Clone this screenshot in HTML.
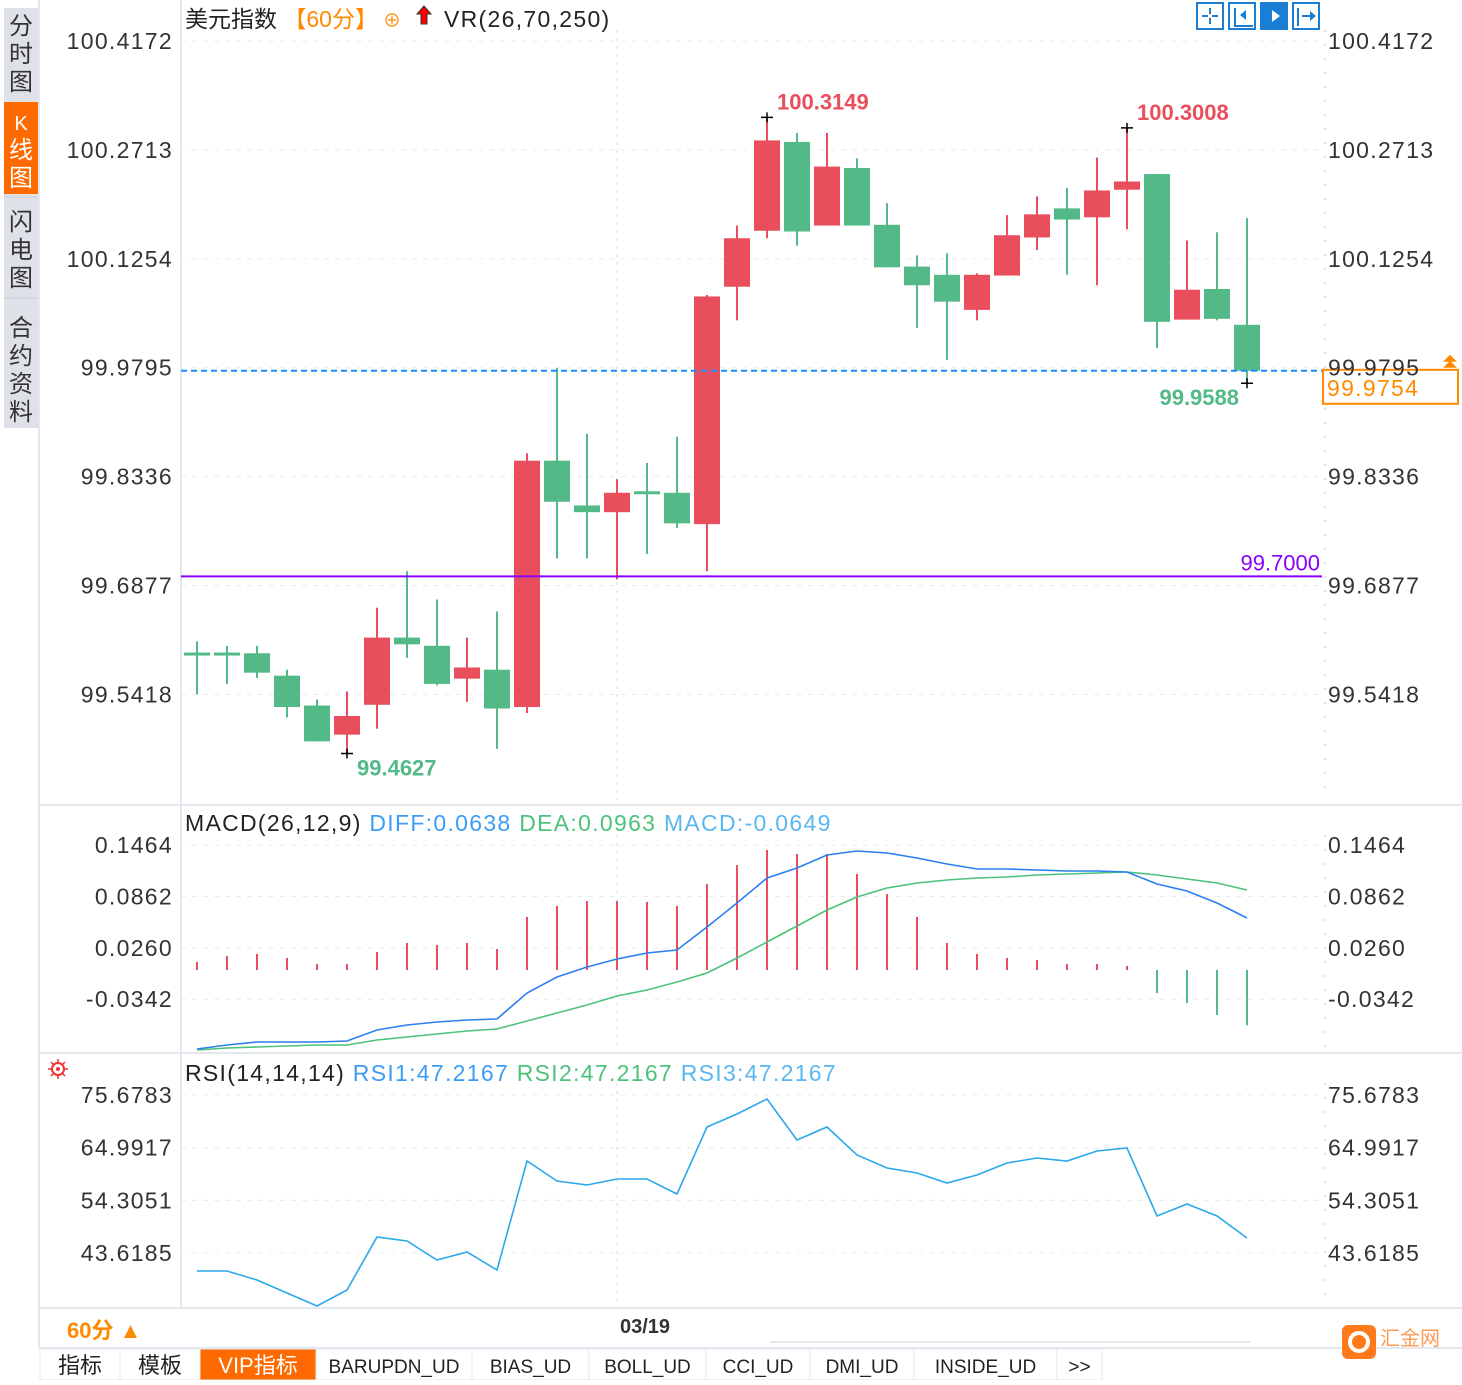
<!DOCTYPE html>
<html><head><meta charset="utf-8"><style>
body{margin:0;background:#fff;width:1462px;height:1380px;overflow:hidden;font-family:"Liberation Sans","Noto Sans CJK SC",sans-serif}
svg text{font-family:"Liberation Sans","Noto Sans CJK SC",sans-serif}
.ax{letter-spacing:1.3px}
</style></head><body>
<svg id="c" width="1462" height="1380" viewBox="0 0 1462 1380">
<g>
<rect x="4" y="8" width="34" height="420" fill="#dfe1e8"/>
<rect x="4" y="102" width="34" height="92" fill="#ff6a00"/>
<line x1="4" y1="197" x2="38" y2="197" stroke="#c8ccd6"/><line x1="4" y1="298" x2="38" y2="298" stroke="#c8ccd6"/>
<text x="21" font-size="24" fill="#333" text-anchor="middle"><tspan x="21" y="34">分</tspan><tspan x="21" y="62">时</tspan><tspan x="21" y="90">图</tspan></text>
<text font-size="24" fill="#fff" text-anchor="middle"><tspan x="21" y="130" font-size="20">K</tspan><tspan x="21" y="158">线</tspan><tspan x="21" y="186">图</tspan></text>
<text font-size="24" fill="#333" text-anchor="middle"><tspan x="21" y="230">闪</tspan><tspan x="21" y="258">电</tspan><tspan x="21" y="286">图</tspan></text>
<text font-size="24" fill="#333" text-anchor="middle"><tspan x="21" y="336">合</tspan><tspan x="21" y="364">约</tspan><tspan x="21" y="392">资</tspan><tspan x="21" y="420">料</tspan></text>
</g>
<g stroke="#e3e8ef" stroke-width="2">
<line x1="39" y1="0" x2="39" y2="1348"/><line x1="181" y1="0" x2="181" y2="1308"/>
<line x1="39" y1="805" x2="1462" y2="805"/><line x1="39" y1="1053" x2="1462" y2="1053"/><line x1="39" y1="1308" x2="1462" y2="1308"/>
<line x1="39" y1="1348" x2="1462" y2="1348"/>
</g>
<g id="grid"></g>
<g id="candles"></g>
<g id="macd"></g>
<g id="rsi"></g>
<g id="axes"></g>
<text x="185" y="27" font-size="23" fill="#222">美元指数 <tspan fill="#ff8a00">【60分】</tspan><tspan fill="#ff8a00" font-size="18"> ⊕ </tspan></text>
<path d="M424 6 l-7 8 h4 v10 h6 v-10 h4 z" fill="#f00" stroke="#333" stroke-width="1"/>
<text x="444" y="27" font-size="23" fill="#222" class="ax">VR(26,70,250)</text>
<g fill="none" stroke="#1a7fd4" stroke-width="2">
<rect x="1197" y="3" width="26" height="26"/>
<rect x="1229" y="3" width="26" height="26"/>
<rect x="1261" y="3" width="26" height="26" fill="#1a7fd4"/>
<rect x="1293" y="3" width="26" height="26"/>
<path d="M1210 8v6M1210 18v6M1202 16h6M1212 16h6M1235 8v18h18M1266 8v18h18M1298 8v18M1302 16h12"/>
<path d="M1272 10l8 6-8 6z M1310 11l6 5-6 5z M1246 10l-6 5 6 5z" fill="#1a7fd4" stroke="none"/>
<path d="M1272 10l8 6-8 6z" fill="#fff" stroke="none"/>
</g>
<text x="185" y="831" font-size="23" fill="#222" class="ax">MACD(26,12,9) <tspan fill="#3d9cf5">DIFF:0.0638</tspan>  <tspan fill="#4cc27a">DEA:0.0963</tspan>  <tspan fill="#5ab7f0">MACD:-0.0649</tspan></text>
<text x="185" y="1081" font-size="23" fill="#222" class="ax">RSI(14,14,14) <tspan fill="#3d9cf5">RSI1:47.2167</tspan>  <tspan fill="#4cc27a">RSI2:47.2167</tspan>  <tspan fill="#5ab7f0">RSI3:47.2167</tspan></text>
<g><circle cx="58" cy="1069" r="6" fill="none" stroke="#e33" stroke-width="2"/><circle cx="58" cy="1069" r="2" fill="#e33"/><path d="M48 1069h4M64 1069h4M58 1059v4M58 1075v4M51 1062l3 3M62 1073l3 3M65 1062l-3 3M54 1073l-3 3" stroke="#e33" stroke-width="1.5"/></g>
<g><rect x="40" y="1309" width="140" height="38" fill="#fff"/><text x="67" y="1338" font-size="22" fill="#ff8a00" font-weight="bold">60分 ▲</text></g>
<text x="620" y="1333" font-size="20" font-weight="bold" fill="#333">03/19</text>
<line x1="770" y1="1342" x2="1250" y2="1342" stroke="#e3e8ef" stroke-width="2"/>
<g id="tabs"></g>
<g><rect x="1342" y="1325" width="34" height="34" rx="6" fill="#ff7a1a"/><circle cx="1359" cy="1342" r="9" fill="none" stroke="#fff" stroke-width="4"/><text x="1380" y="1345" font-size="20" fill="#ff9a55">汇金网</text></g>
</svg>
<script>
const NS='http://www.w3.org/2000/svg';
function mk(p,t,a,txt){const e=document.createElementNS(NS,t);for(const k in a)e.setAttribute(k,a[k]);if(txt!=null)e.textContent=txt;p.appendChild(e);return e;}
// ---- data ----
const opens=[99.598,99.598,99.597,99.567,99.527,99.488,99.528,99.618,99.607,99.563,99.575,99.525,99.855,99.795,99.786,99.814,99.812,99.770,100.088,100.163,100.282,100.170,100.247,100.171,100.115,100.104,100.057,100.103,100.154,100.193,100.181,100.218,100.239,100.044,100.085,100.037];
const highs=[99.613,99.607,99.607,99.575,99.535,99.546,99.658,99.707,99.669,99.618,99.653,99.865,99.979,99.891,99.830,99.852,99.887,100.077,100.170,100.3149,100.294,100.294,100.260,100.200,100.130,100.133,100.106,100.184,100.209,100.220,100.261,100.3008,100.239,100.150,100.161,100.180];
const lows=[99.542,99.556,99.564,99.511,99.479,99.4627,99.496,99.591,99.554,99.532,99.469,99.517,99.724,99.724,99.696,99.730,99.765,99.707,100.043,100.153,100.143,100.170,100.170,100.114,100.033,99.990,100.043,100.103,100.137,100.104,100.090,100.165,100.006,100.044,100.043,99.9588];
const closes=[99.597,99.597,99.571,99.525,99.479,99.513,99.618,99.609,99.556,99.578,99.523,99.855,99.800,99.786,99.812,99.813,99.771,100.075,100.153,100.284,100.162,100.249,100.170,100.114,100.090,100.068,100.104,100.157,100.185,100.178,100.217,100.229,100.041,100.084,100.045,99.9754];
const macdHist=[.0094,.0164,.0188,.0141,.0070,.0070,.0211,.0317,.0293,.0317,.0246,.0622,.0751,.0809,.0809,.0798,.0751,.1009,.1232,.1408,.1361,.1361,.1126,.0891,.0622,.0317,.0188,.0141,.0117,.0070,.0070,.0047,-.0270,-.0387,-.0528,-.0649];
const diffVals=[-.0927,-.0880,-.0845,-.0845,-.0845,-.0833,-.0704,-.0645,-.0610,-.0587,-.0575,-.0270,-.0082,.0035,.0129,.0199,.0235,.0504,.0786,.1079,.1196,.1349,.1396,.1372,.1314,.1243,.1185,.1185,.1173,.1161,.1161,.1150,.1009,.0927,.0786,.0610];
const deaVals=[-.0938,-.0915,-.0903,-.0891,-.0880,-.0880,-.0821,-.0786,-.0751,-.0716,-.0692,-.0598,-.0504,-.0411,-.0305,-.0235,-.0141,-.0035,.0141,.0328,.0516,.0704,.0856,.0962,.1021,.1056,.1079,.1091,.1114,.1126,.1138,.1150,.1114,.1067,.1021,.0938];
const rsiVals=[39.97,39.97,38.14,35.50,32.87,36.11,46.87,46.05,42.20,43.82,40.17,62.29,58.23,57.42,58.63,58.63,55.59,69.19,71.82,74.87,66.55,69.19,63.50,60.87,59.85,57.82,59.45,61.88,62.90,62.29,64.32,64.93,51.13,53.56,51.13,46.66];
const priceTicks=[100.4172,100.2713,100.1254,99.9795,99.8336,99.6877,99.5418];
const macdTicks=[0.1464,0.0862,0.0260,-0.0342];
const rsiTicks=[75.6783,64.9917,54.3051,43.6185];
const lastPrice=99.9754, alertLevel=99.7000;
const tabLabels=['指标','模板','VIP指标','BARUPDN_UD','BIAS_UD','BOLL_UD','CCI_UD','DMI_UD','INSIDE_UD','>>'];
// ---- scales ----
const xAt=i=>197+i*30;
const yP=v=>41+(100.4172-v)*746.5;
const yM=v=>970-v/0.001173;
const yR=v=>1095+(75.6783-v)/0.2029;
const G=document.getElementById('grid'),C=document.getElementById('candles'),M=document.getElementById('macd'),R=document.getElementById('rsi'),A=document.getElementById('axes');
function grid(ticks,f){ticks.forEach(t=>{const y=f(t);
 const l=mk(G,'line',{x1:181,x2:1322,y1:y,y2:y,stroke:'#e8ecf0','stroke-dasharray':'5,6'});
 
 const a=mk(A,'text',{x:173,y:y+8,'font-size':23,fill:'#333','text-anchor':'end','class':'ax'},t.toFixed(4));
 
 const b=mk(A,'text',{x:1328,y:y+8,'font-size':23,fill:'#333','class':'ax'},t.toFixed(4));
 });}
grid(priceTicks,yP);grid(macdTicks,yM);grid(rsiTicks,yR);
[[0,800],[805,1053],[1053,1308]].forEach(r=>{const l=mk(G,'line',{x1:617,x2:617,y1:r[0]+30,y2:r[1],stroke:'#e8ecf0','stroke-dasharray':'3,5','stroke-width':2});
 const q=mk(G,'line',{x1:1325,x2:1325,y1:r[0]+30,y2:r[1],stroke:'#e3e8ef','stroke-dasharray':'2,12','stroke-width':3});});
// candles
for(let i=0;i<opens.length;i++){const up=closes[i]>=opens[i],col=up?'#e94e5c':'#52b987',x=xAt(i);
 const w=mk(C,'line',{x1:x,x2:x,y1:yP(highs[i]),y2:yP(lows[i]),stroke:col,'stroke-width':2});
 
 const t=Math.min(yP(opens[i]),yP(closes[i])),h=Math.max(3,Math.abs(yP(opens[i])-yP(closes[i])));
 const b=mk(C,'rect',{x:x-13,y:t,width:26,height:h,fill:col});
 }
// level lines
let l1=mk(C,'line',{x1:181,x2:1322,y1:yP(alertLevel),y2:yP(alertLevel),stroke:'#8a00ff','stroke-width':2});

let t1=mk(C,'text',{x:1320,y:yP(alertLevel)-6,'font-size':22,fill:'#8a00ff','text-anchor':'end'},alertLevel.toFixed(4));

let l2=mk(C,'line',{x1:181,x2:1322,y1:yP(lastPrice),y2:yP(lastPrice),stroke:'#1a8cff','stroke-width':2,'stroke-dasharray':'6,4'});

let bx=mk(C,'rect',{x:1323,y:yP(lastPrice)-1,width:135,height:34,fill:'#fff',stroke:'#ff8a00','stroke-width':2});

let t2=mk(C,'text',{x:1327,y:yP(lastPrice)+25,'font-size':23,fill:'#ff8a00','class':'ax'},lastPrice.toFixed(4));

let ar=mk(C,'path',{d:'M1450 '+(yP(lastPrice)-16)+' l-7 7 h14 z M1450 '+(yP(lastPrice)-10)+' l-7 7 h14 z',fill:'#ff8a00'});

// extreme markers
const hiI=highs.indexOf(Math.max(...highs.slice(0,25))),hi2=31,loI=lows.indexOf(Math.min(...lows.slice(0,20))),lo2=35;
[[hiI,highs[hiI],'#e94e5c',-8,1],[hi2,highs[hi2],'#e94e5c',-8,1],[loI,lows[loI],'#52b987',22,0],[lo2,lows[lo2],'#52b987',22,2]].forEach(m=>{
 const x=xAt(m[0]),y=yP(m[1]);
 const c=mk(C,'path',{d:`M${x-6} ${y}h12M${x} ${y-5}v10`,stroke:'#000','stroke-width':1.5});
 
 const tx=m[4]==2?x-8:x+10, anc=m[4]==2?'end':'start';
 const t=mk(C,'text',{x:tx,y:y+m[3],'font-size':22,fill:m[2],'text-anchor':anc,'font-weight':'bold'},m[1].toFixed(4));
 });
// macd
for(let i=0;i<macdHist.length;i++){const x=xAt(i),v=macdHist[i];
 const b=mk(M,'line',{x1:x,x2:x,y1:yM(0),y2:yM(v),stroke:v>=0?'#e94e5c':'#52b987','stroke-width':2});
 }
function line(g,arr,f,col,name){const p=mk(g,'polyline',{points:arr.map((v,i)=>xAt(i)+','+f(v).toFixed(1)).join(' '),fill:'none',stroke:col,'stroke-width':1.6});
 }
line(M,deaVals,yM,'#4cc27a','dea-line');line(M,diffVals,yM,'#2b7ff0','diff-line');
line(R,rsiVals,yR,'#2aa8ea','rsi-line');
// tabs
const T=document.getElementById('tabs');let x=40;
tabLabels.forEach((s,i)=>{const w=i<2?80:i==2?116:i==9?45:(s.length*13+26);
 const r=mk(T,'rect',{x:x,y:1349,width:w,height:31,fill:i==2?'#ff6a00':'#fff',stroke:'#e3e8ef'});
 
 const t=mk(T,'text',{x:x+w/2,y:1373,'font-size':i<3?22:19,fill:i==2?'#fff':'#222','text-anchor':'middle','font-family':'"Liberation Mono","Noto Sans CJK SC",monospace'},s);
 
 x+=w;});
</script>
</body></html>
